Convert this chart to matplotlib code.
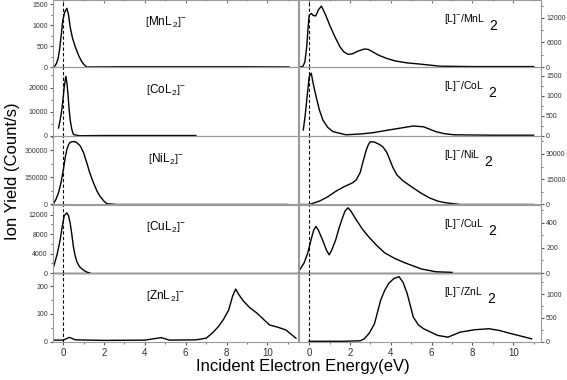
import matplotlib
matplotlib.use("Agg")
import matplotlib.pyplot as plt
from matplotlib.ticker import AutoMinorLocator

plt.rcParams['font.family'] = ['Liberation Sans', 'DejaVu Sans']
plt.rcParams['mathtext.fontset'] = 'custom'
plt.rcParams['mathtext.rm'] = 'Liberation Sans'
plt.rcParams['mathtext.it'] = 'Liberation Sans:italic'

# ---------------- data ----------------
mn_left_x = [-0.47, -0.4, -0.33, -0.25, -0.18, -0.1, -0.02, 0.08, 0.18, 0.26, 0.34, 0.45, 0.59, 0.75, 0.91, 1.05, 1.15, 3.0, 6.0, 9.0, 11.07]
mn_left_y = [0, 30, 88, 200, 405, 750, 1120, 1320, 1400, 1250, 960, 700, 483, 280, 126, 40, 0, 5, 5, 5, 0]

co_left_x = [-0.23, -0.15, -0.07, 0.0, 0.05, 0.13, 0.18, 0.23, 0.28, 0.34, 0.42, 0.50, 0.8, 2.0, 4.0, 6.5]
co_left_y = [3300, 6500, 10800, 16000, 20300, 24700, 22000, 17600, 12000, 6700, 2800, 600, 100, 200, 200, 200]

ni_left_x = [-0.47, -0.35, -0.23, -0.1, 0.01, 0.1, 0.18, 0.26, 0.34, 0.45, 0.59, 0.7, 0.83, 1.0, 1.15, 1.3, 1.48, 1.65, 1.80, 2.0, 2.13, 2.6, 6.5, 11.0]
ni_left_y = [5000, 30000, 65000, 125000, 194000, 260000, 305000, 330000, 343000, 347000, 346000, 338000, 324000, 285000, 232000, 175000, 120000, 75000, 46000, 18000, 5000, 0, 0, 0]

cu_left_x = [-0.47, -0.3, -0.15, -0.05, 0.05, 0.18, 0.26, 0.34, 0.42, 0.50, 0.58, 0.67, 0.8, 0.98, 1.15, 1.3]
cu_left_y = [1300, 3800, 6800, 9500, 11800, 12400, 11800, 10300, 8000, 5400, 3600, 2300, 1300, 620, 200, 0]

zn_left_x = [-0.45, 0.0, 0.3, 0.6, 2.0, 4.0, 4.8, 5.2, 6.5, 7.0, 7.3, 7.6, 7.85, 8.1, 8.3, 8.45, 8.6, 8.8, 9.1, 9.5, 10.1, 10.5, 10.9, 11.4]
zn_left_y = [5, 5, 15, 6, 4, 5, 14, 5, 6, 12, 30, 54, 80, 113, 165, 190, 170, 149, 125, 102, 60, 52, 42, 12]

mn_right_x = [-0.46, -0.3, -0.21, -0.12, -0.05, 0.0, 0.11, 0.2, 0.32, 0.45, 0.6, 0.8, 1.0, 1.25, 1.5, 1.7, 1.9, 2.1, 2.4, 2.7, 2.9, 3.15, 3.4, 3.8, 4.2, 4.8, 5.4, 6.4, 8.0, 11.0]
mn_right_y = [0, 200, 1300, 5000, 10000, 12700, 13100, 12600, 12500, 14000, 14900, 12800, 10300, 7500, 5000, 3700, 3100, 3200, 3900, 4400, 4300, 3600, 2900, 2100, 1500, 1000, 730, 200, 100, 100]

co_right_x = [-0.29, -0.2, -0.1, 0.0, 0.1, 0.2, 0.34, 0.5, 0.67, 0.9, 1.16, 1.8, 2.5, 3.1, 3.9, 4.5, 5.1, 5.6, 6.2, 6.6, 7.1, 9.0, 11.0]
co_right_y = [150, 500, 1000, 1480, 1570, 1300, 980, 650, 400, 220, 110, 30, 50, 80, 150, 200, 250, 230, 110, 60, 30, 20, 20]

ni_right_x = [-0.5, 0.0, 0.5, 0.9, 1.3, 1.7, 2.1, 2.3, 2.5, 2.65, 2.8, 2.9, 3.0, 3.2, 3.45, 3.6, 3.8, 3.95, 4.1, 4.3, 4.6, 5.1, 5.5, 5.9, 6.3, 6.7, 7.4, 11.0]
ni_right_y = [0, 0, 2000, 4500, 7800, 10500, 12700, 14500, 19000, 26000, 32400, 35500, 37200, 37000, 35500, 34300, 31000, 26500, 22000, 17500, 14000, 9800, 6600, 3900, 2000, 1000, 0, 0]

cu_right_x = [-0.47, -0.25, -0.07, 0.1, 0.22, 0.33, 0.45, 0.65, 0.85, 0.98, 1.1, 1.3, 1.45, 1.6, 1.75, 1.9, 2.05, 2.3, 2.6, 2.9, 3.3, 3.7, 4.2, 4.7, 5.5, 6.2, 7.0]
cu_right_y = [24, 80, 160, 270, 340, 370, 340, 264, 180, 144, 180, 264, 350, 424, 490, 518, 490, 424, 350, 290, 220, 160, 115, 80, 32, 10, 5]

zn_right_x = [0.0, 1.7, 2.5, 2.7, 2.95, 3.2, 3.5, 3.7, 3.9, 4.15, 4.4, 4.6, 4.8, 5.1, 5.35, 5.6, 6.3, 6.8, 7.4, 8.1, 8.8, 9.3, 9.8, 10.9]
zn_right_y = [5, 5, 15, 57, 180, 376, 870, 1080, 1230, 1330, 1370, 1250, 1015, 517, 350, 270, 128, 92, 198, 248, 270, 235, 177, 57]

left_labels = ["Mn", "Co", "Ni", "Cu", "Zn"]
left_series = [(mn_left_x, mn_left_y), (co_left_x, co_left_y), (ni_left_x, ni_left_y),
               (cu_left_x, cu_left_y), (zn_left_x, zn_left_y)]
right_series = [(mn_right_x, mn_right_y), (co_right_x, co_right_y), (ni_right_x, ni_right_y),
                (cu_right_x, cu_right_y), (zn_right_x, zn_right_y)]
left_ylims = [1600, 28500, 378000, 14100, 248]
right_ylims = [16400, 1725, 40600, 544, 1447]
left_yticks = [[0, 500, 1000, 1500], [0, 10000, 20000], [0, 150000, 300000],
               [0, 4000, 8000, 12000], [0, 100, 200]]
right_yticks = [[0, 6000, 12000], [0, 500, 1000, 1500], [0, 15000, 30000],
                [0, 200, 400], [0, 500, 1000]]
x_ticks = [0, 2, 4, 6, 8, 10]

# ---------------- layout ----------------
W, H = 567, 380
fig = plt.figure(figsize=(W / 100, H / 100), dpi=100)
bounds = [0, 67, 136, 204.5, 273, 341.5]
lx0, lx1 = 53, 298
rx0, rx1 = 299, 541
spine_c = '#9a9a9a'

for i in range(5):
    top, bot = bounds[i], bounds[i + 1]
    yb = 1 - bot / H
    h = (bot - top) / H
    axl = fig.add_axes([lx0 / W, yb, (lx1 - lx0) / W, h])
    axr = fig.add_axes([rx0 / W, yb, (rx1 - rx0) / W, h])

    for ax, (xs, ys), ylim, yt, side in [
        (axl, left_series[i], left_ylims[i], left_yticks[i], 'left'),
        (axr, right_series[i], right_ylims[i], right_yticks[i], 'right')]:
        ax.plot(xs, ys, color='black', lw=1.0)
        ax.set_ylim(0, ylim)
        if side == 'left':
            ax.set_xlim(-0.5, 11.5)
        else:
            ax.set_xlim(-0.5, 11.36)
        ax.axvline(0, color='black', ls=(0, (3, 2)), lw=0.8)
        ax.set_yticks(yt)
        ax.yaxis.set_minor_locator(AutoMinorLocator(2))
        ax.xaxis.set_minor_locator(AutoMinorLocator(2))
        ax.set_xticks(x_ticks)
        for s in ax.spines.values():
            s.set_color(spine_c)
            s.set_linewidth(0.8)
        ax.patch.set_alpha(0)
        if side == 'left':
            ax.yaxis.tick_left()
        else:
            ax.yaxis.tick_right()
        ax.tick_params(axis='y', which='both', direction='out', labelsize=5,
                       color='#555555', length=2.5, pad=1.2, labelcolor='#333333')
        ax.tick_params(axis='y', which='minor', length=1.5)
        if i == 4:
            ax.tick_params(axis='x', which='both', direction='out', labelsize=7,
                           color='#555555', length=2.5, pad=2, bottom=True, top=False,
                           labelcolor='#333333')
            ax.tick_params(axis='x', which='minor', length=1.5)
        elif i == 0:
            ax.tick_params(axis='x', which='both', direction='in', top=True, bottom=False,
                           labelbottom=False, length=2, color='#777777')
            ax.tick_params(axis='x', which='minor', length=1)
        else:
            ax.tick_params(axis='x', which='both', bottom=False, top=False, labelbottom=False)
        if i == 3:
            ax.spines['bottom'].set_color('black')
            ax.spines['bottom'].set_linewidth(1.0)

    axl.text(0.46, 0.66, r"$\left[\mathrm{%sL}_{\,2}\right]^{-}$" % left_labels[i],
             transform=axl.transAxes, ha='center', va='center', fontsize=8.5)
    main = axr.text(0.6, 0.72, r"$[\mathrm{L}]^{-}/\mathrm{%sL}$" % left_labels[i],
                    transform=axr.transAxes, ha='left', va='center', fontsize=7.5)
    axr.annotate("2", xy=(1.0, 0.0), xycoords=main, xytext=(3, -5),
                 textcoords='offset points', ha='left', va='bottom', fontsize=10)

fig.text(0.535, 0.035, "Incident Electron Energy(eV)", ha='center', va='center', fontsize=12)
fig.text(0.022, 0.55, "Ion Yield (Count/s)", ha='center', va='center', rotation=90, fontsize=12)

fig.savefig("out.png", dpi=100)
